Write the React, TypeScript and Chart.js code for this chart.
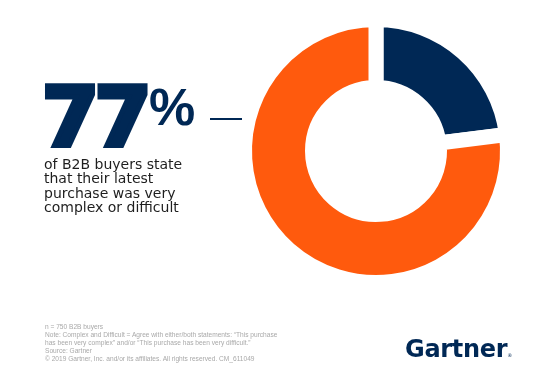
import React, { useEffect, useRef } from "react";
import { Chart, registerables } from "chart.js";

Chart.register(...registerables);

const categories = ["Very complex or difficult", "Other"];
const values = [23, 77];
const sliceColors = ["#002855", "#FF5A0D"];
const headline = "77";
const headlineUnit = "%";
const bodyLines = [
  "of B2B buyers state",
  "that their latest",
  "purchase was very",
  "complex or difficult",
];
const footerLines = [
  "n = 750 B2B buyers",
  "Note: Complex and Difficult = Agree with either/both statements: \u201cThis purchase",
  "has been very complex\u201d and/or \u201cThis purchase has been very difficult.\u201d",
  "Source: Gartner",
  "\u00a9 2019 Gartner, Inc. and/or its affiliates. All rights reserved. CM_611049",
];

const NAVY = "#002855";

export default function App() {
  const canvasRef = useRef<HTMLCanvasElement | null>(null);

  useEffect(() => {
    if (!canvasRef.current) return;
    const chart = new Chart(canvasRef.current, {
      type: "doughnut",
      data: {
        labels: categories,
        datasets: [
          {
            data: values,
            backgroundColor: sliceColors,
            borderColor: "#ffffff",
            borderWidth: 15,
            borderJoinStyle: "miter",
            hoverOffset: 0,
          },
        ],
      },
      options: {
        responsive: false,
        animation: false,
        events: [],
        rotation: 0,
        cutout: 63.5,
        layout: { padding: { left: 237, right: 44, top: 10, bottom: 81 } },
        plugins: {
          legend: { display: false },
          tooltip: { enabled: false },
          title: { display: false },
        },
      },
    });
    return () => chart.destroy();
  }, []);

  return (
    <div
      style={{
        position: "absolute",
        left: 0,
        top: 0,
        width: 559,
        height: 373,
        background: "#ffffff",
        overflow: "hidden",
      }}
    >
      <canvas
        ref={canvasRef}
        width={559}
        height={373}
        style={{ position: "absolute", left: 0, top: 0, width: 559, height: 373 }}
      />
      <div
        style={{
          position: "absolute",
          left: 42,
          top: 77,
          fontFamily: "'DejaVu Sans', sans-serif",
          fontWeight: 700,
          fontSize: 82,
          lineHeight: "82px",
          color: NAVY,
          WebkitTextStroke: `5px ${NAVY}`,
          whiteSpace: "nowrap",
          letterSpacing: -4.5,
        }}
      >
        {headline}
      </div>
      <div
        style={{
          position: "absolute",
          left: 149,
          top: 81,
          fontFamily: "'Liberation Sans', Arial, sans-serif",
          fontWeight: 700,
          fontSize: 52,
          lineHeight: "52px",
          color: NAVY,
          whiteSpace: "nowrap",
        }}
      >
        {headlineUnit}
      </div>
      <div
        style={{
          position: "absolute",
          left: 210,
          top: 118,
          width: 32,
          height: 1.5,
          background: NAVY,
        }}
      />
      <div
        style={{
          position: "absolute",
          left: 44,
          top: 157,
          fontFamily: "'DejaVu Sans', sans-serif",
          fontSize: 14,
          lineHeight: "14.3px",
          color: "#1e1e1e",
          whiteSpace: "nowrap",
        }}
      >
        {bodyLines.map((l, i) => (
          <div key={i}>{l}</div>
        ))}
      </div>
      <div
        style={{
          position: "absolute",
          left: 45,
          top: 322.6,
          fontFamily: "'Liberation Sans', Arial, sans-serif",
          fontSize: 6.6,
          lineHeight: "8.2px",
          color: "#a9a9a9",
          whiteSpace: "nowrap",
        }}
      >
        {footerLines.map((l, i) => (
          <div key={i}>{l}</div>
        ))}
      </div>
      <div
        style={{
          position: "absolute",
          left: 405,
          top: 337,
          fontFamily: "'DejaVu Sans', sans-serif",
          fontWeight: 700,
          fontSize: 24,
          lineHeight: "24px",
          color: NAVY,
          whiteSpace: "nowrap",
          letterSpacing: -0.3,
        }}
      >
        Gartner
        <span style={{ fontSize: 5, fontWeight: 400, verticalAlign: "baseline" }}>®</span>
      </div>
    </div>
  );
}
